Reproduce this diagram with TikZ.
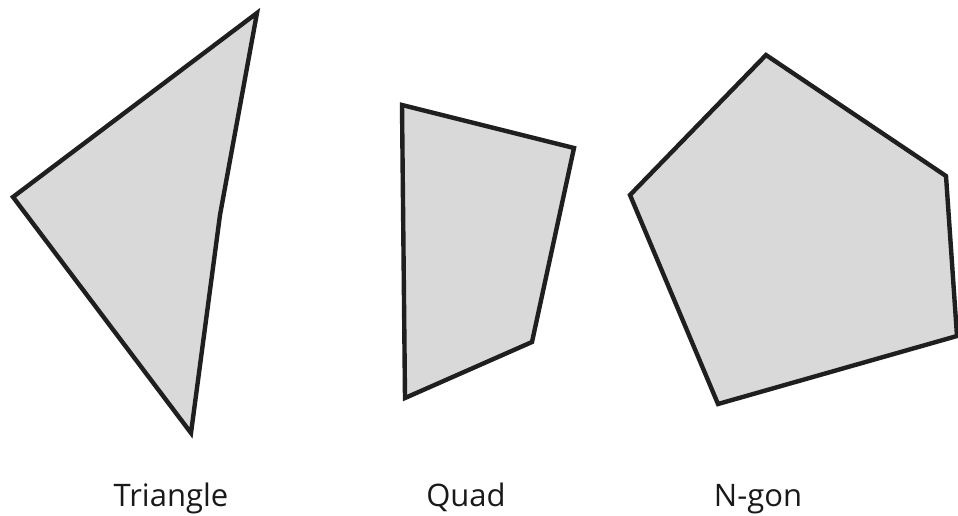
\documentclass[tikz,border=0pt]{standalone}
\usepackage{fontspec}
\setmainfont{Open Sans}
\begin{document}
\begin{tikzpicture}[x=1pt,y=-1pt,
  poly/.style={draw=black!88,fill=black!15,line width=4.4pt,line join=miter},
  lbl/.style={inner sep=0pt,anchor=base,font=\fontsize{31}{36}\selectfont,text=black!90}]
\useasboundingbox (0,0) rectangle (958,515);
\clip (0,0) rectangle (958,515);
% Triangle
\draw[poly] (257,13) -- (220,215) -- (191,433) -- (13,197) -- cycle;
% Quad
\draw[poly] (402,105) -- (574,148) -- (532,342) -- (405,398) -- cycle;
% N-gon
\draw[poly] (766,55) -- (946,176) -- (957,336) -- (718,404) -- (630,195) -- cycle;
% Labels
\node[lbl] (t) at (171,506) {Triangle};
\node[lbl] (q) at (466,506) {Quad};
\node[lbl] (n) at (758,506) {N-gon};
\end{tikzpicture}
\end{document}
